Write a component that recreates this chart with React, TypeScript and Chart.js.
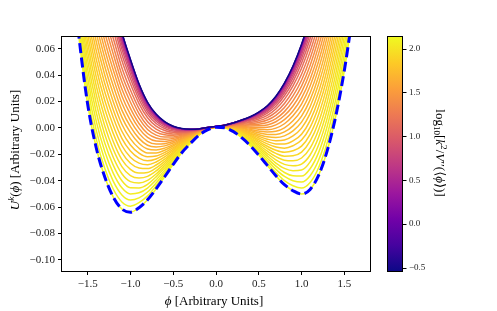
import React, { useEffect, useRef } from 'react';
import { Chart, registerables } from 'chart.js';

Chart.register(...registerables);

// phi grid shared by every curve
const phiGrid = [-1.7, -1.6, -1.5, -1.4, -1.3, -1.2, -1.1, -1.0, -0.9, -0.8, -0.7, -0.6, -0.5, -0.4, -0.3, -0.2, -0.1, 0.0, 0.1, 0.2, 0.3, 0.4, 0.5, 0.6, 0.7, 0.8, 0.9, 1.0, 1.1, 1.2, 1.3, 1.4, 1.5, 1.6];

// bare potential V(phi) (dashed blue)
const bareV = [0.130, 0.068, 0.018, -0.015, -0.0372, -0.0525, -0.0615, -0.0639, -0.0605, -0.0545, -0.0462, -0.0370, -0.0276, -0.0188, -0.0118, -0.0055, -0.0015, 0.0005, 0.0001, -0.0026, -0.0074, -0.0134, -0.0206, -0.0284, -0.0362, -0.0430, -0.0476, -0.0501, -0.0466, -0.0358, -0.0172, 0.0090, 0.0436, 0.0870];

// U^k(phi) curves, from the UV (yellow) to the IR (dark)
const flowCurves: number[][] = [
  [0.130, 0.068, 0.018, -0.015, -0.0372, -0.0525, -0.0615, -0.0639, -0.0605, -0.0545, -0.0462, -0.0370, -0.0276, -0.0188, -0.0118, -0.0055, -0.0015, 0.0005, 0.0001, -0.0026, -0.0074, -0.0134, -0.0206, -0.0284, -0.0362, -0.0430, -0.0476, -0.0501, -0.0466, -0.0358, -0.0172, 0.0090, 0.0436, 0.0870],
  [0.135, 0.0741, 0.0247, -0.0083, -0.0308, -0.0465, -0.0561, -0.0593, -0.0567, -0.0515, -0.0439, -0.0353, -0.0264, -0.0181, -0.0114, -0.0053, -0.0014, 0.0005, 0.0002, -0.0023, -0.0069, -0.0125, -0.0193, -0.0266, -0.0338, -0.0399, -0.0438, -0.0456, -0.0414, -0.0300, -0.0110, 0.0154, 0.0501, 0.0935],
  [0.140, 0.080, 0.0314, -0.0016, -0.0243, -0.0405, -0.0508, -0.0546, -0.0530, -0.0486, -0.0417, -0.0337, -0.0253, -0.0173, -0.0109, -0.0051, -0.0014, 0.0006, 0.0003, -0.0021, -0.0063, -0.0117, -0.0180, -0.0248, -0.0314, -0.0368, -0.0400, -0.0410, -0.0362, -0.0243, -0.0049, 0.0219, 0.0567, 0.100],
  [0.146, 0.086, 0.0380, 0.0052, -0.0179, -0.0344, -0.0454, -0.0500, -0.0492, -0.0456, -0.0394, -0.0320, -0.0241, -0.0166, -0.0105, -0.0049, -0.0013, 0.0006, 0.0003, -0.0018, -0.0058, -0.0108, -0.0167, -0.0230, -0.0290, -0.0338, -0.0363, -0.0365, -0.0309, -0.0185, 0.0013, 0.0283, 0.0632, 0.107],
  [0.151, 0.092, 0.0447, 0.0119, -0.0114, -0.0284, -0.0401, -0.0454, -0.0455, -0.0427, -0.0371, -0.0303, -0.0230, -0.0159, -0.0101, -0.0047, -0.0012, 0.0006, 0.0004, -0.0016, -0.0053, -0.0099, -0.0154, -0.0212, -0.0266, -0.0307, -0.0325, -0.0319, -0.0257, -0.0127, 0.0075, 0.0348, 0.0697, 0.113],
  [0.156, 0.098, 0.0514, 0.0186, -0.0050, -0.0224, -0.0347, -0.0407, -0.0417, -0.0397, -0.0349, -0.0286, -0.0218, -0.0151, -0.0096, -0.0045, -0.0011, 0.0006, 0.0005, -0.0013, -0.0047, -0.0090, -0.0141, -0.0194, -0.0242, -0.0276, -0.0287, -0.0274, -0.0205, -0.0069, 0.0136, 0.0412, 0.0763, 0.120],
  [0.161, 0.105, 0.0581, 0.0253, 0.0015, -0.0164, -0.0293, -0.0361, -0.0379, -0.0367, -0.0326, -0.0270, -0.0207, -0.0144, -0.0092, -0.0044, -0.0011, 0.0007, 0.0006, -0.0011, -0.0042, -0.0081, -0.0128, -0.0176, -0.0218, -0.0245, -0.0249, -0.0228, -0.0153, -0.0012, 0.0198, 0.0476, 0.0828, 0.126],
  [0.166, 0.111, 0.0648, 0.0320, 0.0079, -0.0104, -0.0240, -0.0314, -0.0342, -0.0338, -0.0303, -0.0253, -0.0195, -0.0136, -0.0087, -0.0042, -0.0010, 0.0007, 0.0007, -0.0008, -0.0037, -0.0073, -0.0115, -0.0157, -0.0193, -0.0214, -0.0211, -0.0183, -0.0100, 0.0046, 0.0260, 0.0541, 0.0894, 0.133],
  [0.172, 0.117, 0.0714, 0.0388, 0.0144, -0.0043, -0.0186, -0.0268, -0.0304, -0.0308, -0.0281, -0.0236, -0.0184, -0.0129, -0.0083, -0.0040, -0.0009, 0.0007, 0.0007, -0.0006, -0.0031, -0.0064, -0.0102, -0.0139, -0.0169, -0.0184, -0.0173, -0.0138, -0.0048, 0.0104, 0.0321, 0.0605, 0.0959, 0.139],
  [0.177, 0.123, 0.0781, 0.0455, 0.0208, 0.0017, -0.0133, -0.0222, -0.0267, -0.0279, -0.0258, -0.0220, -0.0172, -0.0122, -0.0079, -0.0038, -0.0009, 0.0008, 0.0008, -0.0003, -0.0026, -0.0055, -0.0089, -0.0121, -0.0145, -0.0153, -0.0135, -0.0092, 0.0004, 0.0162, 0.0383, 0.0670, 0.102, 0.146],
  [0.182, 0.129, 0.0848, 0.0522, 0.0273, 0.0077, -0.0079, -0.0175, -0.0229, -0.0249, -0.0235, -0.0203, -0.0160, -0.0114, -0.0074, -0.0036, -0.0008, 0.0008, 0.0009, 0.0000, -0.0020, -0.0046, -0.0076, -0.0103, -0.0121, -0.0122, -0.0098, -0.0047, 0.0056, 0.0219, 0.0445, 0.0734, 0.109, 0.152],
  [0.187, 0.135, 0.0915, 0.0589, 0.0337, 0.0137, -0.0025, -0.0129, -0.0191, -0.0219, -0.0213, -0.0186, -0.0149, -0.0107, -0.0070, -0.0034, -0.0007, 0.0008, 0.0010, 0.0002, -0.0015, -0.0038, -0.0063, -0.0085, -0.0097, -0.0091, -0.0060, -0.0001, 0.0109, 0.0277, 0.0507, 0.0798, 0.116, 0.159],
  [0.192, 0.141, 0.0982, 0.0656, 0.0402, 0.0197, 0.0028, -0.0083, -0.0154, -0.0190, -0.0190, -0.0169, -0.0137, -0.0100, -0.0066, -0.0032, -0.0006, 0.0008, 0.0011, 0.0005, -0.0010, -0.0029, -0.0050, -0.0067, -0.0073, -0.0060, -0.0022, 0.0044, 0.0161, 0.0335, 0.0568, 0.0863, 0.122, 0.165],
  [0.198, 0.147, 0.1048, 0.0724, 0.0466, 0.0258, 0.0082, -0.0036, -0.0116, -0.0160, -0.0167, -0.0153, -0.0126, -0.0092, -0.0061, -0.0030, -0.0006, 0.0009, 0.0011, 0.0007, -0.0004, -0.0020, -0.0037, -0.0049, -0.0049, -0.0030, 0.0016, 0.0090, 0.0213, 0.0392, 0.0630, 0.0927, 0.129, 0.172],
  [0.203, 0.153, 0.1115, 0.0791, 0.0531, 0.0318, 0.0135, 0.0010, -0.0079, -0.0131, -0.0144, -0.0136, -0.0114, -0.0085, -0.0057, -0.0028, -0.0005, 0.0009, 0.0012, 0.0010, 0.0001, -0.0011, -0.0023, -0.0031, -0.0025, 0.0001, 0.0054, 0.0135, 0.0265, 0.0450, 0.0692, 0.0992, 0.135, 0.178],
  [0.208, 0.159, 0.1182, 0.0858, 0.0595, 0.0378, 0.0189, 0.0056, -0.0041, -0.0101, -0.0122, -0.0119, -0.0103, -0.0078, -0.0053, -0.0026, -0.0004, 0.0009, 0.0013, 0.0012, 0.0006, -0.0003, -0.0010, -0.0013, -0.0001, 0.0032, 0.0092, 0.0181, 0.0318, 0.0508, 0.0753, 0.1056, 0.142, 0.185],
  [0.213, 0.165, 0.1249, 0.0925, 0.0660, 0.0438, 0.0243, 0.0103, -0.0003, -0.0071, -0.0099, -0.0102, -0.0091, -0.0070, -0.0048, -0.0024, -0.0003, 0.0009, 0.0014, 0.0015, 0.0012, 0.0006, 0.0003, 0.0005, 0.0023, 0.0063, 0.0129, 0.0226, 0.0370, 0.0566, 0.0815, 0.112, 0.148, 0.191],
  [0.218, 0.171, 0.1316, 0.0992, 0.0724, 0.0498, 0.0296, 0.0149, 0.0034, -0.0042, -0.0076, -0.0086, -0.0079, -0.0063, -0.0044, -0.0022, -0.0003, 0.0010, 0.0015, 0.0018, 0.0017, 0.0015, 0.0016, 0.0023, 0.0047, 0.0094, 0.0167, 0.0272, 0.0422, 0.0623, 0.0877, 0.1185, 0.155, 0.198],
  [0.224, 0.177, 0.1382, 0.1060, 0.0789, 0.0559, 0.0350, 0.0195, 0.0072, -0.0012, -0.0054, -0.0069, -0.0068, -0.0056, -0.0040, -0.0020, -0.0002, 0.0010, 0.0015, 0.0020, 0.0023, 0.0024, 0.0029, 0.0041, 0.0071, 0.0124, 0.0205, 0.0317, 0.0474, 0.0681, 0.0938, 0.125, 0.161, 0.204],
  [0.229, 0.184, 0.1449, 0.1127, 0.0853, 0.0619, 0.0403, 0.0242, 0.0109, 0.0017, -0.0031, -0.0052, -0.0056, -0.0048, -0.0035, -0.0019, -0.0001, 0.0010, 0.0016, 0.0023, 0.0028, 0.0032, 0.0042, 0.0060, 0.0096, 0.0155, 0.0243, 0.0362, 0.0527, 0.0739, 0.100, 0.131, 0.168, 0.211],
  [0.234, 0.190, 0.1516, 0.1194, 0.0918, 0.0679, 0.0457, 0.0288, 0.0147, 0.0047, -0.0008, -0.0036, -0.0045, -0.0041, -0.0031, -0.0017, -0.0001, 0.0011, 0.0017, 0.0025, 0.0033, 0.0041, 0.0055, 0.0078, 0.0120, 0.0186, 0.0281, 0.0408, 0.0579, 0.0796, 0.106, 0.138, 0.174, 0.217],
  [0.239, 0.196, 0.1583, 0.1261, 0.0982, 0.0739, 0.0511, 0.0335, 0.0185, 0.0077, 0.0014, -0.0019, -0.0033, -0.0033, -0.0026, -0.0015, 0.0000, 0.0011, 0.0018, 0.0028, 0.0039, 0.0050, 0.0068, 0.0096, 0.0144, 0.0217, 0.0319, 0.0453, 0.0631, 0.0854, 0.112, 0.144, 0.181, 0.224],
  [0.244, 0.201, 0.164, 0.132, 0.1039, 0.0792, 0.0558, 0.0375, 0.0218, 0.0103, 0.0034, -0.0004, -0.0023, -0.0027, -0.0023, -0.0013, 0.0001, 0.0011, 0.0019, 0.0030, 0.0043, 0.0058, 0.0079, 0.0112, 0.0165, 0.0244, 0.0352, 0.0493, 0.0677, 0.0905, 0.118, 0.150, 0.187, 0.230],
  [0.248, 0.206, 0.169, 0.137, 0.1087, 0.0837, 0.0598, 0.0410, 0.0246, 0.0125, 0.0051, 0.0008, -0.0014, -0.0022, -0.0019, -0.0012, 0.0001, 0.0011, 0.0019, 0.0032, 0.0047, 0.0064, 0.0089, 0.0125, 0.0183, 0.0267, 0.0380, 0.0527, 0.0716, 0.0948, 0.122, 0.155, 0.191, 0.235],
  [0.251, 0.209, 0.173, 0.141, 0.1127, 0.0875, 0.0631, 0.0439, 0.0269, 0.0143, 0.0065, 0.0019, -0.0007, -0.0017, -0.0017, -0.0010, 0.0002, 0.0012, 0.0020, 0.0034, 0.0051, 0.0070, 0.0097, 0.0136, 0.0198, 0.0286, 0.0404, 0.0556, 0.0749, 0.0984, 0.126, 0.159, 0.196, 0.239],
  [0.254, 0.212, 0.177, 0.145, 0.1159, 0.0905, 0.0658, 0.0462, 0.0288, 0.0158, 0.0077, 0.0027, -0.0001, -0.0013, -0.0015, -0.0009, 0.0002, 0.0012, 0.0020, 0.0035, 0.0053, 0.0074, 0.0104, 0.0145, 0.0210, 0.0302, 0.0423, 0.0578, 0.0775, 0.1013, 0.129, 0.162, 0.199, 0.242],
  [0.255, 0.215, 0.179, 0.147, 0.1184, 0.0927, 0.0678, 0.0479, 0.0302, 0.0169, 0.0085, 0.0033, 0.0003, -0.0010, -0.0013, -0.0009, 0.0002, 0.0012, 0.0020, 0.0036, 0.0055, 0.0077, 0.0109, 0.0152, 0.0219, 0.0313, 0.0437, 0.0595, 0.0794, 0.1035, 0.132, 0.164, 0.201, 0.244],
  [0.257, 0.217, 0.181, 0.149, 0.1203, 0.0945, 0.0694, 0.0493, 0.0313, 0.0178, 0.0092, 0.0038, 0.0006, -0.0008, -0.0012, -0.0008, 0.0003, 0.0012, 0.0021, 0.0037, 0.0057, 0.0080, 0.0113, 0.0158, 0.0226, 0.0322, 0.0448, 0.0609, 0.0810, 0.1052, 0.133, 0.166, 0.203, 0.246],
  [0.258, 0.218, 0.183, 0.151, 0.1217, 0.0959, 0.0706, 0.0504, 0.0322, 0.0185, 0.0097, 0.0042, 0.0009, -0.0007, -0.0011, -0.0008, 0.0003, 0.0012, 0.0021, 0.0037, 0.0058, 0.0082, 0.0115, 0.0162, 0.0232, 0.0329, 0.0457, 0.0619, 0.0822, 0.1065, 0.135, 0.168, 0.205, 0.248],
  [0.259, 0.219, 0.184, 0.152, 0.1229, 0.0970, 0.0716, 0.0512, 0.0328, 0.0190, 0.0101, 0.0045, 0.0011, -0.0005, -0.0010, -0.0007, 0.0003, 0.0012, 0.0021, 0.0038, 0.0059, 0.0083, 0.0118, 0.0165, 0.0236, 0.0335, 0.0463, 0.0627, 0.0831, 0.1075, 0.136, 0.169, 0.206, 0.249],
  [0.260, 0.220, 0.185, 0.153, 0.1235, 0.0975, 0.0721, 0.0517, 0.0332, 0.0193, 0.0103, 0.0047, 0.0012, -0.0005, -0.0009, -0.0007, 0.0003, 0.0012, 0.0021, 0.0038, 0.0060, 0.0084, 0.0119, 0.0167, 0.0238, 0.0338, 0.0467, 0.0632, 0.0836, 0.1081, 0.137, 0.170, 0.207, 0.250],
  [0.260, 0.220, 0.185, 0.153, 0.124, 0.098, 0.0725, 0.052, 0.0335, 0.0195, 0.0105, 0.0048, 0.0013, -0.0004, -0.0009, -0.0007, 0.0003, 0.0012, 0.0021, 0.0038, 0.0060, 0.0085, 0.0120, 0.0168, 0.0240, 0.0340, 0.0470, 0.0635, 0.0840, 0.1085, 0.137, 0.170, 0.207, 0.250],
];

// colour value log10[k^2 / V''(<phi>)] of each curve
const curveLogK = [2.131, 2.104, 2.076, 2.047, 2.017, 1.986, 1.954, 1.921, 1.886, 1.850, 1.811, 1.771, 1.729, 1.684, 1.636, 1.585, 1.530, 1.470, 1.405, 1.331, 1.248, 1.152, 1.051, 0.946, 0.837, 0.726, 0.619, 0.504, 0.383, 0.237, 0.090, -0.534];

const xTicks = [-1.5, -1.0, -0.5, 0.0, 0.5, 1.0, 1.5];
const yTicks = [-0.1, -0.08, -0.06, -0.04, -0.02, 0.0, 0.02, 0.04, 0.06];
const cbarTicks = [-0.5, 0.0, 0.5, 1.0, 1.5, 2.0];
const cbarMin = -0.534;
const cbarMax = 2.131;

const plasmaStops = ['#0d0887', '#46039f', '#7201a8', '#9c179e', '#bd3786', '#d8576b', '#ed7953', '#fb9f3a', '#fdca26', '#f0f921'];
const FONT = '"Liberation Serif", "DejaVu Serif", serif';

function hexToRgb(h: string) {
  return [parseInt(h.slice(1, 3), 16), parseInt(h.slice(3, 5), 16), parseInt(h.slice(5, 7), 16)];
}
function plasma(c: number) {
  const cc = Math.max(0, Math.min(1, c));
  const p = cc * (plasmaStops.length - 1);
  const i = Math.min(plasmaStops.length - 2, Math.floor(p));
  const f = p - i;
  const a = hexToRgb(plasmaStops[i]);
  const b = hexToRgb(plasmaStops[i + 1]);
  const m = a.map((v, k) => Math.round(v + (b[k] - v) * f));
  return `rgb(${m[0]},${m[1]},${m[2]})`;
}
function fmt(v: number, d: number) {
  const s = Math.abs(v).toFixed(d);
  return (v < -1e-9 ? '\u2212' : '') + s;
}

type Seg = { t: string; it?: boolean; sc?: 'sup' | 'sub' };
function drawRich(ctx: CanvasRenderingContext2D, segs: Seg[], x: number, y: number, size: number, rot: number) {
  ctx.save();
  ctx.translate(x, y);
  ctx.rotate(rot);
  const fontOf = (s: Seg) => `${s.it ? 'italic ' : ''}${s.sc ? size * 0.7 : size}px ${FONT}`;
  const widths = segs.map((s) => {
    ctx.font = fontOf(s);
    return ctx.measureText(s.t).width;
  });
  const total = widths.reduce((a, b) => a + b, 0);
  let cx = -total / 2;
  ctx.textAlign = 'left';
  ctx.textBaseline = 'alphabetic';
  ctx.fillStyle = '#000';
  segs.forEach((s, i) => {
    ctx.font = fontOf(s);
    const dy = s.sc === 'sup' ? -size * 0.38 : s.sc === 'sub' ? size * 0.22 : 0;
    ctx.fillText(s.t, cx, size * 0.35 + dy);
    cx += widths[i];
  });
  ctx.restore();
}

const decor = {
  id: 'decor',
  afterDraw(chart: any) {
    const ctx: CanvasRenderingContext2D = chart.ctx;
    const a = chart.chartArea;
    ctx.save();
    // axes frame
    ctx.strokeStyle = '#000';
    ctx.lineWidth = 1;
    ctx.strokeRect(a.left - 0.5, a.top - 0.5, a.right - a.left + 1, a.bottom - a.top + 1);

    // colourbar
    const x0 = 388, x1 = 402, y0 = a.top, y1 = a.bottom;
    const g = ctx.createLinearGradient(0, y1, 0, y0);
    plasmaStops.forEach((c, i) => g.addColorStop(i / (plasmaStops.length - 1), c));
    ctx.fillStyle = g;
    ctx.fillRect(x0, y0, x1 - x0, y1 - y0);
    ctx.strokeRect(x0 - 0.5, y0 - 0.5, x1 - x0 + 1, y1 - y0 + 1);
    ctx.font = `9px ${FONT}`;
    ctx.fillStyle = '#222';
    ctx.textAlign = 'left';
    ctx.textBaseline = 'middle';
    cbarTicks.forEach((v) => {
      const yy = y1 - ((v - cbarMin) / (cbarMax - cbarMin)) * (y1 - y0);
      ctx.beginPath();
      ctx.moveTo(x1 + 0.5, Math.round(yy) + 0.5);
      ctx.lineTo(x1 + 4.5, Math.round(yy) + 0.5);
      ctx.stroke();
      ctx.fillText(fmt(v, 1), x1 + 7, yy);
    });
    ctx.restore();

    // axis labels
    drawRich(ctx, [{ t: 'U', it: true }, { t: 'k', it: true, sc: 'sup' }, { t: '(' }, { t: '\u03D5', it: true }, { t: ')' }, { t: ' [Arbitrary Units]' }], 14, 150, 13, -Math.PI / 2);
    drawRich(ctx, [{ t: '\u03D5', it: true }, { t: ' [Arbitrary Units]' }], 214, 300, 13, 0);
    drawRich(ctx, [
      { t: 'log' }, { t: '10', sc: 'sub' }, { t: '[' }, { t: 'k', it: true }, { t: '2', sc: 'sup' }, { t: '/' },
      { t: 'V', it: true }, { t: '\u2032\u2032' }, { t: '(' }, { t: '\u27E8' }, { t: '\u03D5', it: true }, { t: '\u27E9' }, { t: ')' }, { t: ']' },
    ], 441, 153, 13, Math.PI / 2);
  },
};

export default function App() {
  const ref = useRef<HTMLCanvasElement>(null);
  useEffect(() => {
    document.body.style.margin = '0';
    const canvas = ref.current!;
    const mk = (row: number[]) => phiGrid.map((x, i) => ({ x, y: row[i] }));
    const curveSets = flowCurves.map((row, i) => ({
      label: 'k' + i,
      data: mk(row),
      borderColor: plasma((curveLogK[i] - cbarMin) / (cbarMax - cbarMin)),
      borderWidth: 1.5,
      pointRadius: 0,
      fill: false,
      cubicInterpolationMode: 'monotone' as const,
    }));
    const datasets: any[] = [
      {
        label: 'V',
        data: mk(bareV),
        borderColor: '#0000ff',
        borderWidth: 3,
        borderDash: [10, 4.5],
        pointRadius: 0,
        fill: false,
        cubicInterpolationMode: 'monotone',
      },
      ...curveSets.reverse(),
    ];
    const tickFont = { family: FONT, size: 11 };
    const chart = new Chart(canvas, {
      type: 'line',
      data: { datasets },
      plugins: [decor],
      options: {
        animation: false,
        responsive: false,
        devicePixelRatio: 1,
        events: [],
        elements: { line: { capBezierPoints: false } },
        layout: { padding: { left: 0, top: 37, right: 127, bottom: 0 } },
        plugins: { legend: { display: false }, tooltip: { enabled: false } },
        scales: {
          x: {
            type: 'linear',
            min: -1.8,
            max: 1.8,
            afterBuildTicks: (s: any) => { s.ticks = xTicks.map((v) => ({ value: v })); },
            afterFit: (s: any) => { s.height = 40; },
            grid: { display: true, drawOnChartArea: false, drawTicks: true, tickLength: 4, color: '#000', lineWidth: 1 },
            border: { display: false },
            ticks: { autoSkip: false, maxRotation: 0, padding: 3, color: '#222', font: tickFont, callback: (v: any) => fmt(Number(v), 1) },
          },
          y: {
            type: 'linear',
            min: -0.1085,
            max: 0.069,
            afterBuildTicks: (s: any) => { s.ticks = yTicks.map((v) => ({ value: v })); },
            afterFit: (s: any) => { s.width = 62; },
            grid: { display: true, drawOnChartArea: false, drawTicks: true, tickLength: 4, color: '#000', lineWidth: 1 },
            border: { display: false },
            ticks: { autoSkip: false, padding: 3, color: '#222', font: tickFont, callback: (v: any) => fmt(Number(v), 2) },
          },
        },
      } as any,
    });
    return () => chart.destroy();
  }, []);
  return (
    <div style={{ position: 'absolute', left: 0, top: 0, width: 497, height: 311 }}>
      <canvas ref={ref} width={497} height={311} style={{ display: 'block', width: 497, height: 311 }} />
    </div>
  );
}
